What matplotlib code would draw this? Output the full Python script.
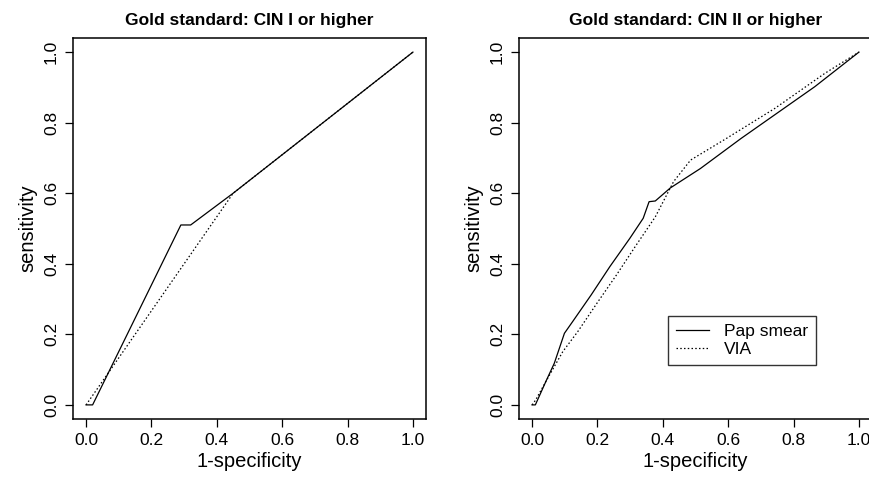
import matplotlib
matplotlib.use("Agg")
import matplotlib.pyplot as plt

plt.rcParams['font.family'] = ['Liberation Sans', 'DejaVu Sans']

# CIN I or higher
pap1_x = [0.0, 0.02, 0.29, 0.32, 0.45, 1.0]
pap1_y = [0.0, 0.0, 0.51, 0.51, 0.60, 1.0]
via1_x = [0.0, 0.45, 1.0]
via1_y = [0.0, 0.60, 1.0]

# CIN II or higher
pap2_x = [0.0, 0.01, 0.042, 0.068, 0.099, 0.124, 0.181, 0.238, 0.299, 0.340, 0.358,
          0.377, 0.423, 0.515, 0.639, 0.742, 0.865, 1.0]
pap2_y = [0.0, 0.0, 0.066, 0.118, 0.203, 0.236, 0.312, 0.392, 0.472, 0.529, 0.576,
          0.578, 0.615, 0.670, 0.755, 0.822, 0.902, 1.0]
via2_x = [0.0, 0.011, 0.042, 0.094, 0.140, 0.202, 0.258, 0.315, 0.377, 0.433, 0.485,
          0.587, 0.742, 0.896, 1.0]
via2_y = [0.0, 0.014, 0.066, 0.151, 0.208, 0.293, 0.368, 0.448, 0.533, 0.633, 0.694,
          0.751, 0.840, 0.940, 1.0]

titles = ["Gold standard: CIN I or higher", "Gold standard: CIN II or higher"]
ticks = [0.0, 0.2, 0.4, 0.6, 0.8, 1.0]
tick_labels = ["0.0", "0.2", "0.4", "0.6", "0.8", "1.0"]

fig = plt.figure(figsize=(8.7, 4.78), dpi=100)
W, H = 870, 478
ax1 = fig.add_axes([73 / W, 59 / H, 353 / W, 381 / H])
ax2 = fig.add_axes([519 / W, 59 / H, 353 / W, 381 / H])

data = [(pap1_x, pap1_y, via1_x, via1_y), (pap2_x, pap2_y, via2_x, via2_y)]
for ax, title, (px, py, vx, vy) in zip([ax1, ax2], titles, data):
    ax.plot(px, py, color='black', lw=0.9, label='Pap smear')
    ax.plot(vx, vy, color='black', lw=0.9, linestyle=(0, (1.2, 1.8)), label='VIA')
    ax.set_xlim(-0.04, 1.04)
    ax.set_ylim(-0.04, 1.04)
    ax.set_xticks(ticks)
    ax.set_xticklabels(tick_labels)
    ax.set_yticks(ticks)
    ax.set_yticklabels(tick_labels, rotation=90, va='center')
    ax.tick_params(direction='out', length=6, width=0.9, labelsize=12.5, colors='black', pad=4)
    for sp in ax.spines.values():
        sp.set_linewidth(1.1)
    ax.set_xlabel("1-specificity", fontsize=14.5, labelpad=3)
    ax.set_ylabel("sensitivity", fontsize=14.5, labelpad=5)
    ax.set_title(title, fontsize=12.5, fontweight='bold', pad=9)

ax2.spines['right'].set_visible(False)

leg = ax2.legend(loc='center', bbox_to_anchor=(0.632, 0.206), frameon=True, fancybox=False,
                 edgecolor='black', fontsize=12.5, handlelength=1.9, handletextpad=0.9,
                 borderpad=0.45, borderaxespad=0, labelspacing=0.15)
leg.get_frame().set_linewidth(1.0)

fig.savefig("out.png", dpi=100)
